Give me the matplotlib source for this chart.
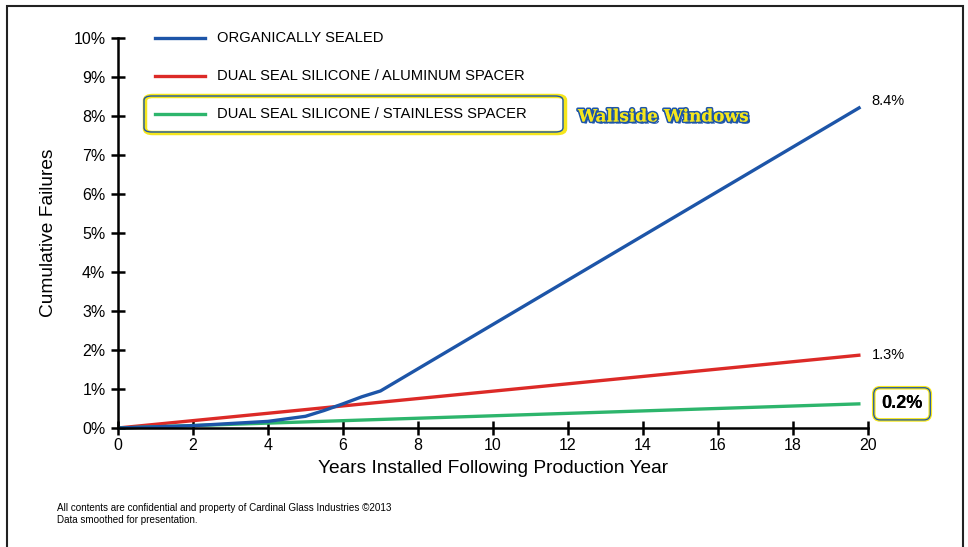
import matplotlib.pyplot as plt
import matplotlib.patheffects as pe
from matplotlib.lines import Line2D
from matplotlib.patches import FancyBboxPatch, Rectangle

# data (cumulative failures, %)
years_organic = [0, 2, 4, 5, 5.5, 6, 6.5, 7, 19.8]
fail_organic = [0, 0.06, 0.17, 0.3, 0.45, 0.62, 0.8, 0.95, 8.23]
years_aluminum = [0, 19.8]
fail_aluminum = [0, 1.87]
years_stainless = [0, 19.8]
fail_stainless = [0, 0.62]

series_names = ["ORGANICALLY SEALED",
                "DUAL SEAL SILICONE / ALUMINUM SPACER",
                "DUAL SEAL SILICONE / STAINLESS SPACER"]
end_labels = ["8.4%", "1.3%", "0.2%"]
x_ticks = list(range(0, 21, 2))
y_ticks = list(range(0, 11))

BLUE = "#1d55a8"
RED = "#dc2a27"
GREEN = "#2db56c"
YELLOW = "#f5e61c"

plt.rcParams['font.family'] = ['Liberation Sans', 'DejaVu Sans']

W, H = 968, 547
fig = plt.figure(figsize=(W / 100, H / 100), dpi=100)


def fx(px):
    return px / W


def fy(py):
    return 1 - py / H


ax = fig.add_axes([fx(118), fy(428), fx(868) - fx(118), fy(38) - fy(428)])
ax.set_xlim(0, 20)
ax.set_ylim(0, 10)

lw = 2.4
ax.plot(years_aluminum, fail_aluminum, color=RED, lw=lw, solid_capstyle='butt', clip_on=False)
ax.plot(years_stainless, fail_stainless, color=GREEN, lw=lw, solid_capstyle='butt', clip_on=False)
ax.plot(years_organic, fail_organic, color=BLUE, lw=lw, solid_capstyle='butt', clip_on=False)

for s in ['top', 'right']:
    ax.spines[s].set_visible(False)
for s in ['left', 'bottom']:
    ax.spines[s].set_linewidth(1.8)
    ax.spines[s].set_color('black')
    ax.spines[s].set_zorder(5)

ax.set_xticks(x_ticks)
ax.set_yticks(y_ticks)
ax.set_yticklabels([f"{v}%" for v in y_ticks])
ax.tick_params(direction='inout', length=10, width=1.8, labelsize=11.5, pad=2)
ax.tick_params(axis='y', pad=4)

ax.set_xlabel("Years Installed Following Production Year", fontsize=13.8, labelpad=5)
ax.set_ylabel("Cumulative Failures", fontsize=13.8, labelpad=12)

# end-of-line labels
ax.annotate(end_labels[0], (years_organic[-1], fail_organic[-1]),
            xytext=(8, 4), textcoords='offset points', fontsize=10.5,
            va='center', ha='left', annotation_clip=False)
ax.annotate(end_labels[1], (years_aluminum[-1], fail_aluminum[-1]),
            xytext=(8, 0), textcoords='offset points', fontsize=10.5,
            va='center', ha='left', annotation_clip=False)
for ec, elw in [(YELLOW, 2.6), (BLUE, 0.9)]:
    ax.annotate(end_labels[2], (years_stainless[-1], fail_stainless[-1]),
                xytext=(15, 0), textcoords='offset points', fontsize=13,
                fontweight='bold', va='center', ha='left', annotation_clip=False,
                bbox=dict(boxstyle='round,pad=0.42,rounding_size=0.35',
                          fc='white' if ec == YELLOW else 'none', ec=ec, lw=elw))

# legend, drawn by hand
legend_y = [38, 76, 114]
legend_colors = [BLUE, RED, GREEN]
for name, c, py in zip(series_names, legend_colors, legend_y):
    fig.add_artist(Line2D([fx(155), fx(205)], [fy(py), fy(py)], color=c, lw=lw,
                          transform=fig.transFigure))
    fig.text(fx(217), fy(py), name, fontsize=10.6, va='center', ha='left')

# highlight box around third legend entry
box = dict(boxstyle='round,pad=0,rounding_size=0.008', transform=fig.transFigure)
fig.add_artist(FancyBboxPatch((fx(145), fy(133)), fx(565) - fx(145), fy(96) - fy(133),
                              fc='none', ec=YELLOW, lw=3.2, **box))
fig.add_artist(FancyBboxPatch((fx(144), fy(132)), fx(563) - fx(144), fy(96) - fy(132),
                              fc='none', ec=BLUE, lw=1.0, **box))

fig.text(fx(578), fy(117), "Wallside Windows", fontsize=12.2, fontweight='bold',
         family='DejaVu Serif', color=YELLOW, va='center', ha='left',
         path_effects=[pe.withStroke(linewidth=2.4, foreground=BLUE),
                       pe.SimplePatchShadow(offset=(1.5, -1.5), shadow_rgbFace=BLUE, alpha=1),
                       pe.Normal()])

fig.text(fx(57), fy(508), "All contents are confidential and property of Cardinal Glass Industries \u00a92013",
         fontsize=7.1, va='center', ha='left')
fig.text(fx(57), fy(520), "Data smoothed for presentation.", fontsize=7.1, va='center', ha='left')

# outer frame
fig.add_artist(Rectangle((fx(7), fy(560)), fx(963) - fx(7), fy(6) - fy(560),
                         fc='none', ec='#222222', lw=1.5, transform=fig.transFigure))

fig.savefig("out.png", dpi=100)
